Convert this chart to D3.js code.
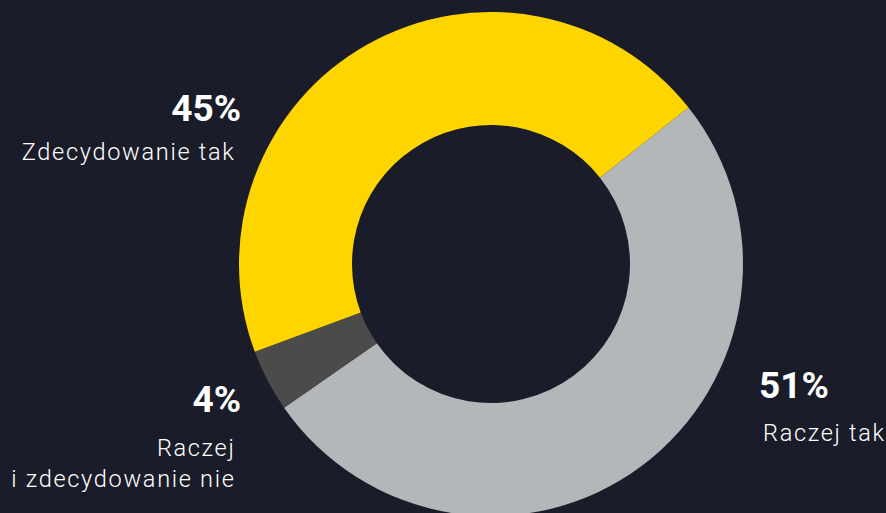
<!DOCTYPE html>
<html>
<head>
<meta charset="utf-8">
<script src="https://cdn.jsdelivr.net/npm/d3@7"></script>
<style>
  html, body { margin: 0; padding: 0; background: #1a1d29; }
  svg { display: block; }
  text { fill: #ffffff; font-family: Roboto, "Noto Sans", sans-serif; }
  .name { letter-spacing: 1.7px; }
</style>
</head>
<body>
<svg id="chart" width="886" height="513"></svg>
<script>
// Survey answers, in drawing order (clockwise)
const categories = ["Raczej tak", "Raczej i zdecydowanie nie", "Zdecydowanie tak"];
const shares = [51, 4, 45];
const colors = ["#b4b7ba", "#4b4b49", "#ffd500"];
const valueLabels = ["51%", "4%", "45%"];
const nameLines = [["Raczej tak"], ["Raczej", "i zdecydowanie nie"], ["Zdecydowanie tak"]];

const svg = d3.select("#chart");
const cx = 491, cy = 264, outerR = 252, innerR = 139;

const pie = d3.pie()
  .sort(null)
  .value(d => d)
  .startAngle(51.6 * Math.PI / 180)
  .endAngle(51.6 * Math.PI / 180 + 2 * Math.PI);

const arc = d3.arc().innerRadius(innerR).outerRadius(outerR);

const g = svg.append("g").attr("transform", `translate(${cx},${cy})`);
g.selectAll("path")
  .data(pie(shares))
  .join("path")
  .attr("d", arc)
  .attr("fill", (d, i) => colors[i]);

// Label blocks: value in bold, category name below
const labelPos = [
  { x: 759, y: 398, anchor: "start", nx: 763, ny: 441 },
  { x: 241, y: 412, anchor: "end", nx: 235.5, ny: 456 },
  { x: 241, y: 121, anchor: "end", nx: 235.5, ny: 160 }
];

categories.forEach((c, i) => {
  const p = labelPos[i];
  svg.append("text")
    .attr("class", "value")
    .attr("x", p.x).attr("y", p.y)
    .attr("text-anchor", p.anchor)
    .attr("font-size", 37)
    .attr("font-weight", 700)
    .text(valueLabels[i]);
  const t = svg.append("text")
    .attr("class", "name")
    .attr("text-anchor", p.anchor)
    .attr("font-size", 23.5)
    .attr("font-weight", 300);
  nameLines[i].forEach((line, j) => {
    t.append("tspan")
      .attr("x", p.nx)
      .attr("y", p.ny + j * 31)
      .text(line);
  });
});
</script>
</body>
</html>
